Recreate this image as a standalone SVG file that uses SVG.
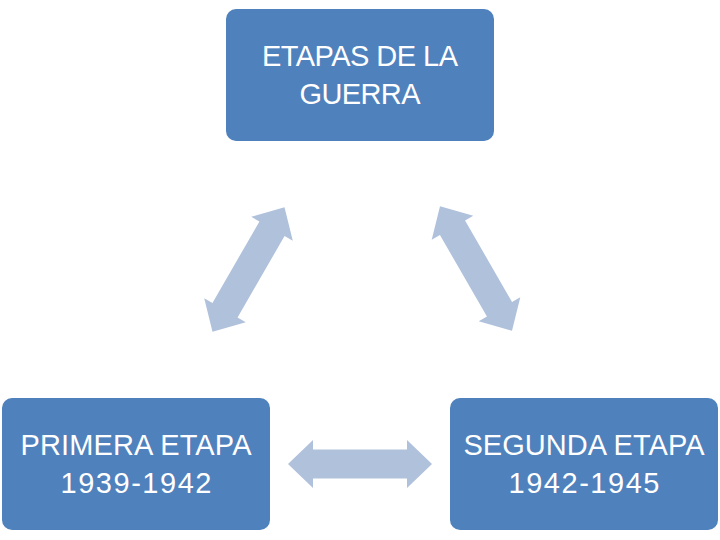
<svg xmlns="http://www.w3.org/2000/svg" width="720" height="540" viewBox="0 0 720 540">
<style>
.box{fill:#4F81BD;}
.lbl{fill:#FFFFFF;font-family:"Liberation Sans",Arial,sans-serif;font-size:29px;text-anchor:middle;}
.arr{fill:#B0C1DC;}
</style>
<defs>
<path id="dbl" d="M-72,0 L-47,-24 L-47,-14.5 L47,-14.5 L47,-24 L72,0 L47,24 L47,14.5 L-47,14.5 L-47,24 Z"/>
</defs>
<rect width="720" height="540" fill="#FFFFFF"/>
<g id="connectors">
<use href="#dbl" class="arr" transform="translate(248.5,269.5) rotate(-60)"/>
<use href="#dbl" class="arr" transform="translate(476,268.5) rotate(60)"/>
<use href="#dbl" class="arr" transform="translate(360,464)"/>
</g>
<g id="top">
<rect class="box" x="226" y="9" width="268" height="132" rx="10"/>
<text class="lbl" x="360" y="66" textLength="196">ETAPAS DE LA</text>
<text class="lbl" x="360" y="104" textLength="121">GUERRA</text>
</g>
<g id="primera">
<rect class="box" x="2" y="398" width="268" height="132" rx="10"/>
<text class="lbl" x="136" y="455" textLength="231">PRIMERA ETAPA</text>
<text class="lbl" x="136" y="493" textLength="151">1939-1942</text>
</g>
<g id="segunda">
<rect class="box" x="450" y="398" width="268" height="132" rx="10"/>
<text class="lbl" x="584" y="455" textLength="241">SEGUNDA ETAPA</text>
<text class="lbl" x="584" y="493" textLength="151">1942-1945</text>
</g>
</svg>
